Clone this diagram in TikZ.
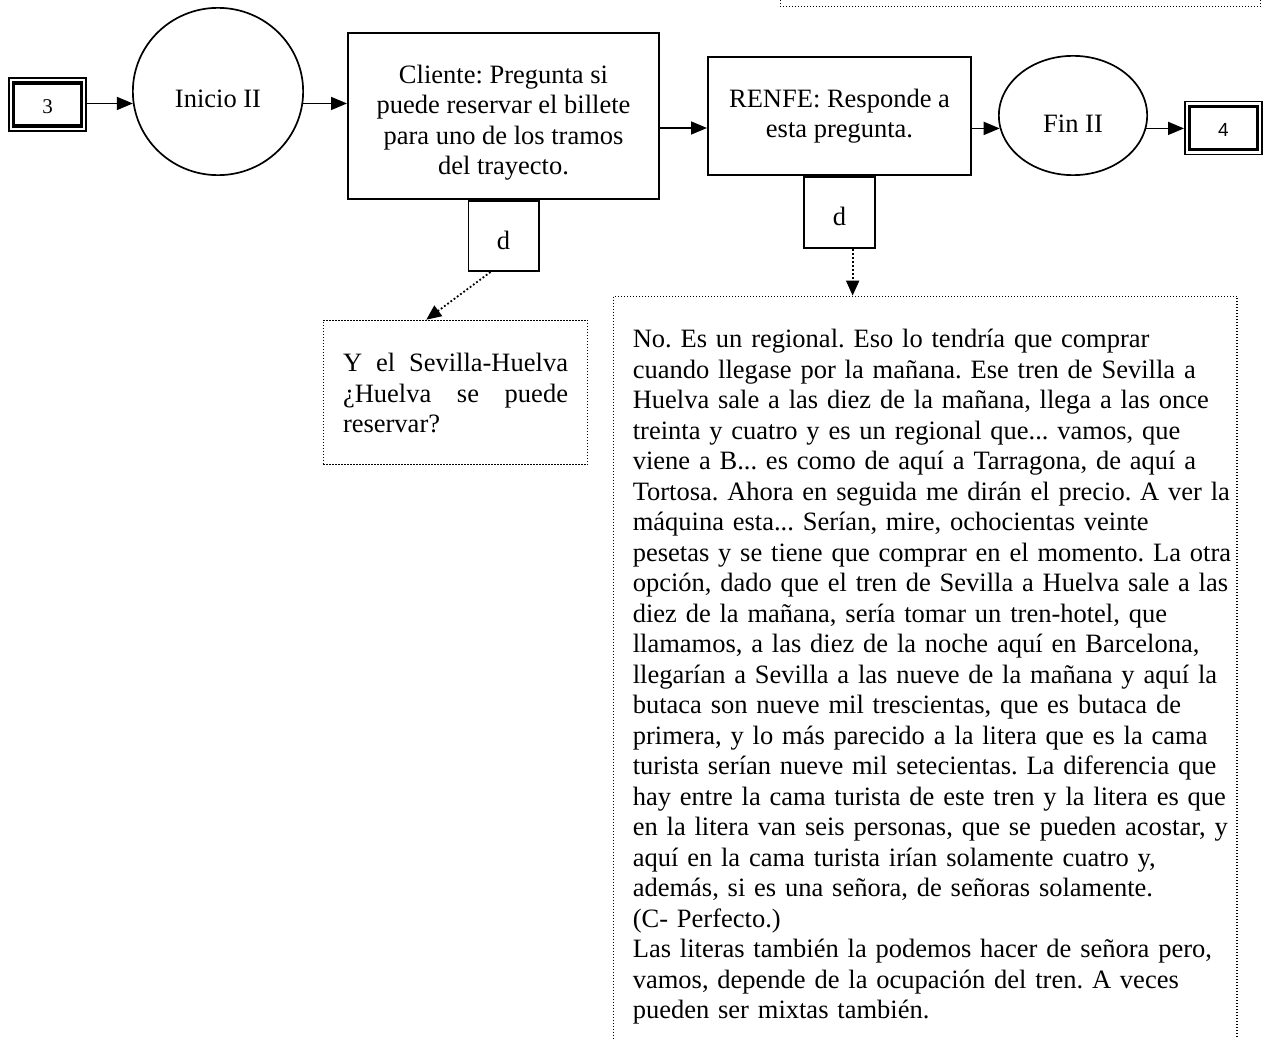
\documentclass[tikz,border=0pt]{standalone}
\usepackage{fontspec}
\setmainfont{Liberation Serif}
\newfontfamily\labelsans{Liberation Sans}
\usetikzlibrary{arrows.meta,calc,shapes.geometric}
% invisible rule that fixes the height of a text block's first line
\newcommand{\firststrut}{\rule{0pt}{21pt}}
\frenchspacing
\begin{document}
\begin{tikzpicture}[x=1pt,y=-1pt,
  every node/.style={inner sep=0pt},
  body/.style={font=\fontsize{26.5}{30.5}\selectfont\frenchspacing},
  procbox/.style={draw, line width=1.7pt, rectangle},
  terminal/.style={draw, line width=1.7pt, ellipse},
  notebox/.style={draw, line width=1.2pt, dash pattern=on 1.2pt off 1.8pt},
  connbox/.style={draw, line width=1.7pt, rectangle, minimum width=77.3pt, minimum height=53pt},
  connframe/.style={line width=3.2pt},
  flow/.style={line width=1.7pt, -{Triangle[length=16pt,width=13pt]}},
  notelink/.style={line width=1.8pt, dash pattern=on 1.8pt off 2.2pt, -{Triangle[length=15pt,width=13pt]}},
]
\useasboundingbox (0,0) rectangle (1268,1038);
\clip (0,0) rectangle (1268,1038);

% note box continuing from above
\node[notebox, minimum width=480.5pt, minimum height=60pt, anchor=south west] (prevnote) at (779.6,7.4) {};

% off-page connector 3
\node[connbox] (c3) at (47.5,104.5) {};
\draw[connframe] ($(c3.south west)+(5.8,-5.8)$) rectangle ($(c3.north east)+(-5.8,5.8)$);
\node[font=\fontsize{21}{25}\selectfont, anchor=base] (c3-label) at ($(c3.center)+(0,8.8)$) {3};

% start
\node[terminal, minimum width=170.3pt, minimum height=167.3pt] (inicio) at (218,91.5) {};
\node[body, anchor=base] (inicio-label) at ($(inicio.center)+(0,16.5)$) {Inicio II};

% client question
\node[procbox, minimum width=311.3pt, minimum height=166.3pt] (cliente) at (503.5,116) {};
\node[body, anchor=north, align=center] (cliente-text) at ($(cliente.north)+(0,30)$)
  {\firststrut Cliente: Pregunta si\\ puede reservar el billete\\ para uno de los tramos\\ del trayecto.};
\node[procbox, minimum width=70.3pt, minimum height=70.3pt, anchor=north] (cliente-d) at (cliente.south) {};
\node[body, anchor=base] (cliente-d-label) at ($(cliente-d.north)+(0,49.5)$) {d};

% RENFE answer
\node[procbox, minimum width=263.3pt, minimum height=118.3pt] (renfe) at (839.5,116) {};
\node[body, anchor=north, align=center] (renfe-text) at ($(renfe.north)+(0,30)$)
  {\firststrut RENFE: Responde a\\ esta pregunta.};
\node[procbox, minimum width=71.3pt, minimum height=71pt, anchor=north] (renfe-d) at (renfe.south) {};
\node[body, anchor=base] (renfe-d-label) at ($(renfe-d.north)+(0,49.5)$) {d};

% end
\node[terminal, minimum width=148.3pt, minimum height=119.3pt] (fin) at (1073,115.5) {};
\node[body, anchor=base] (fin-label) at ($(fin.center)+(0,16.5)$) {Fin II};

% off-page connector 4
\node[connbox] (c4) at (1223.5,128) {};
\draw[connframe] ($(c4.south west)+(5.8,-5.8)$) rectangle ($(c4.north east)+(-5.8,5.8)$);
\node[font=\labelsans\fontsize{19}{23}\selectfont, anchor=base] (c4-label) at ($(c4.center)+(0,8.8)$) {4};

% detail notes
\node[notebox, minimum width=264.4pt, minimum height=144.4pt] (ynote) at (455.5,392.5) {};
\node[body, anchor=north, text width=225pt, align=justify] (ynote-text) at ($(ynote.north)+(0,31)$)
  {\tolerance=10000\hyphenpenalty=10000\exhyphenpenalty=10000
   \firststrut Y el Sevilla-Huelva\linebreak ¿Huelva se puede\linebreak reservar?};

\node[notebox, minimum width=623.8pt, minimum height=780pt, anchor=north west] (bignote) at (612.6,295.6) {};
\node[body, anchor=north west, text width=600pt, align=left] (bignote-text) at ($(bignote.north west)+(20,31)$)
  {\firststrut No. Es un regional. Eso lo tendría que comprar\\
   cuando llegase por la mañana. Ese tren de Sevilla a\\
   Huelva sale a las diez de la mañana, llega a las once\\
   treinta y cuatro y es un regional que... vamos, que\\
   viene a B... es como de aquí a Tarragona, de aquí a\\
   Tortosa. Ahora en seguida me dirán el precio. A ver la\\
   máquina esta... Serían, mire, ochocientas veinte\\
   pesetas y se tiene que comprar en el momento. La otra\\
   opción, dado que el tren de Sevilla a Huelva sale a las\\
   diez de la mañana, sería tomar un tren-hotel, que\\
   llamamos, a las diez de la noche aquí en Barcelona,\\
   llegarían a Sevilla a las nueve de la mañana y aquí la\\
   butaca son nueve mil trescientas, que es butaca de\\
   primera, y lo más parecido a la litera que es la cama\\
   turista serían nueve mil setecientas. La diferencia que\\
   hay entre la cama turista de este tren y la litera es que\\
   en la litera van seis personas, que se pueden acostar, y\\
   aquí en la cama turista irían solamente cuatro y,\\
   además, si es una señora, de señoras solamente.\\
   (C- Perfecto.)\\
   Las literas también la podemos hacer de señora pero,\\
   vamos, depende de la ocupación del tren. A veces\\
   pueden ser mixtas también.};

% main flow
\coordinate (mainline) at (0,128);
\draw[flow] (inicio.188 -| c3.east) -- (inicio.188);
\draw[flow] (inicio.352) -- (inicio.352 -| cliente.west);
\draw[flow] (cliente.east |- mainline) -- (renfe.west |- mainline);
\draw[flow] (renfe.east |- fin.190) -- (fin.190);
\draw[flow] (fin.350) -- (fin.350 -| c4.west);

% links to the detail notes
\coordinate (dropC) at ($(cliente-d.south west)!0.32!(cliente-d.south east)$);
\coordinate (dropR) at ($(renfe-d.south west)!0.68!(renfe-d.south east)$);
\draw[notelink] (dropC) -- ($(ynote.north west)!0.39!(ynote.north east)$);
\draw[notelink] (dropR) -- (dropR |- bignote.north);
\end{tikzpicture}
\end{document}
